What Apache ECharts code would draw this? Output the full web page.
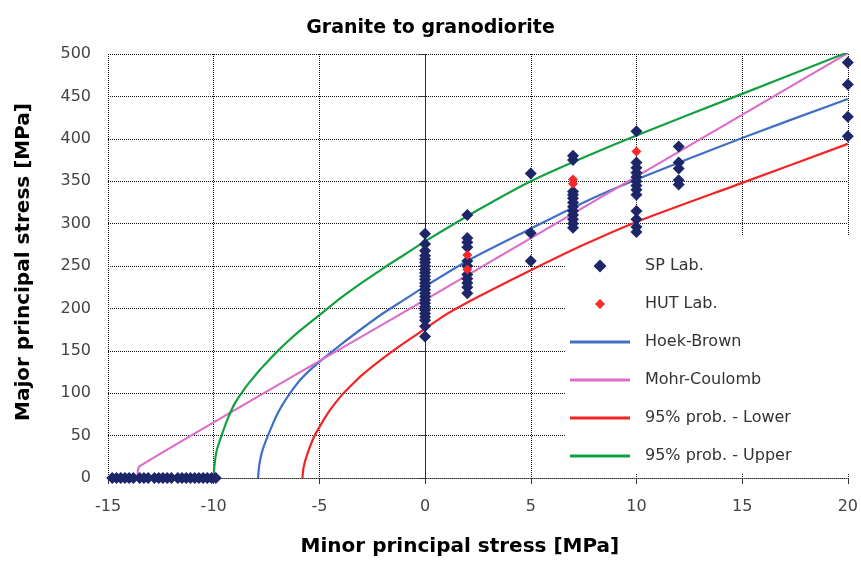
<!DOCTYPE html>
<html>
<head>
<meta charset="utf-8">
<script src="https://cdn.jsdelivr.net/npm/echarts@6/dist/echarts.min.js"></script>
<style>
  html, body { margin: 0; padding: 0; background: #fff; }
  #chart { width: 861px; height: 562px; }
</style>
</head>
<body>
<div id="chart"></div>
<script>
// Triaxial test results, granite to granodiorite: [minor stress, major stress] in MPa
const spLab = [
  [-14.8,0],[-14.6,0],[-14.4,0],[-14.2,0],[-14.0,0],[-13.8,0],[-13.5,0],[-13.3,0],
  [-13.1,0],[-12.8,0],[-12.6,0],[-12.4,0],[-12.2,0],[-12.0,0],[-11.7,0],[-11.5,0],
  [-11.3,0],[-11.1,0],[-10.9,0],[-10.7,0],[-10.5,0],[-10.3,0],[-10.1,0],[-9.9,0],
  [0,288],[0,276],[0,268],[0,262],[0,258],[0,254],[0,250],[0,246],[0,242],[0,238],
  [0,234],[0,230],[0,226],[0,222],[0,218],[0,214],[0,210],[0,206],[0,202],[0,198],
  [0,194],[0,190],[0,186],[0,179],[0,167],
  [2,310],[2,283],[2,278],[2,272],[2,256],[2,250],[2,240],[2,235],[2,230],[2,225],[2,218],
  [5,359],[5,289],[5,256],
  [7,380],[7,375],[7,338],[7,334],[7,330],[7,325],[7,320],[7,315],[7,310],[7,305],[7,300],[7,295],
  [10,409],[10,372],[10,366],[10,360],[10,355],[10,350],[10,345],[10,340],[10,334],
  [10,315],[10,305],[10,296],[10,290],
  [12,391],[12,372],[12,365],[12,351],[12,346],
  [20,490],[20,464],[20,426],[20,403]
];
const hutLab = [
  [2,263],[2,246],
  [7,352],[7,347],
  [10,385]
];

// Failure envelopes
const hoekBrown = [
  [-7.9,0],[-7.85,14],[-7.7,32],[-7.4,52],[-7,75],[-6.5,96],[-6,113],[-5.5,126],
  [-5,137],[-4,157],[-3,176],[-2,194],[-1,210],[0,226],[2,256],[5,294],
  [7.5,325],[10,352],[15,401],[20,447]
];
const mohrCoulomb = [
  [-13.6,4],[-13.5,14],[0,210],[20,501]
];
const lower95 = [
  [-5.8,0],[-5.75,12],[-5.6,26],[-5.3,46],[-5,60],[-4.5,80],[-4,96],[-3.5,109],
  [-3,121],[-2,141],[-1,159],[0,176],[1,193],[2,207],[3,220],[5,245],
  [7.5,275],[10,302],[15,348],[20,394]
];
const upper95 = [
  [-10,0],[-9.95,18],[-9.85,33],[-9.6,52],[-9.3,72],[-9,88],[-8.6,103],[-8.3,113],
  [-7.8,128],[-7.5,136],[-7,149],[-6.5,161],[-6,172],[-5,192],[-4,212],[-3,230],
  [-2,247],[-1,263],[0,279],[2.5,316],[5,350],[7.5,378],[10,404],[15,453],[20,502]
];

const xTicks = { min: -15, max: 20, interval: 5 };
const yTicks = { min: 0, max: 500, interval: 50 };

const FONT = '"DejaVu Sans", Verdana, sans-serif';
const grid = { lineStyle: { color: '#111', type: 'dotted', width: 1 } };

// Legend glyphs: short bar for curves, diamonds for test points
const LINE_ICON = 'path://M0,0H60V3H0Z';
const SP_ICON = 'path://M0,-6L6,0L0,6L-6,0Z';
const HUT_ICON = 'path://M0,-6.5M0,6.5M0,-5L5,0L0,5L-5,0Z';

const chart = echarts.init(document.getElementById('chart'), null, { renderer: 'canvas' });

function lineSeries(name, data, color) {
  return {
    name, type: 'line', data, z: 2,
    symbol: 'none', showSymbol: false, smooth: 0.25,
    lineStyle: { color, width: 2.2 }, itemStyle: { color },
    animation: false
  };
}

chart.setOption({
  animation: false,
  backgroundColor: '#fff',
  title: {
    text: 'Granite to granodiorite',
    left: 'center', top: 14,
    textStyle: { fontFamily: FONT, fontSize: 19, fontWeight: 'bold', color: '#000' }
  },
  grid: { left: 108, right: 8, top: 54, bottom: 84 },
  xAxis: {
    type: 'value', min: xTicks.min, max: xTicks.max, interval: xTicks.interval,
    name: 'Minor principal stress [MPa]', nameLocation: 'middle', nameGap: 59,
    nameTextStyle: { fontFamily: FONT, fontSize: 20, fontWeight: 'bold', color: '#000', padding: [0, 36, 0, 0] },
    axisLine: { show: true, onZero: false, lineStyle: { color: '#333', type: 'dotted' } },
    axisTick: { show: true, length: 6, lineStyle: { color: '#333' } },
    axisLabel: { fontFamily: FONT, fontSize: 16, color: '#444', margin: 21 },
    splitLine: { show: true, ...grid }
  },
  yAxis: {
    type: 'value', min: yTicks.min, max: yTicks.max, interval: yTicks.interval,
    name: 'Major principal stress [MPa]', nameLocation: 'middle', nameGap: 74, nameRotate: 90,
    nameTextStyle: { fontFamily: FONT, fontSize: 20, fontWeight: 'bold', color: '#000', padding: [0, 0, 0, 8] },
    axisLine: { show: true, lineStyle: { color: '#333', type: 'dotted' } },
    axisTick: { show: true, length: 7, lineStyle: { color: '#333' } },
    axisLabel: { fontFamily: FONT, fontSize: 16, color: '#444', margin: 17 },
    splitLine: { show: true, ...grid }
  },
  legend: {
    orient: 'vertical', left: 565, top: 235, z: 1,
    backgroundColor: '#fff',
    padding: [23, 60, 10, 5],
    itemWidth: 60, itemHeight: 13, itemGap: 22,
    textStyle: { fontFamily: FONT, fontSize: 16, color: '#333', lineHeight: 16, padding: [0, 0, 0, 10] },
    data: [
      { name: 'SP Lab.', icon: SP_ICON },
      { name: 'HUT Lab.', icon: HUT_ICON },
      { name: 'Hoek-Brown', icon: LINE_ICON },
      { name: 'Mohr-Coulomb', icon: LINE_ICON },
      { name: '95% prob. - Lower', icon: LINE_ICON },
      { name: '95% prob. - Upper', icon: LINE_ICON }
    ]
  },
  series: [
    lineSeries('Hoek-Brown', hoekBrown, '#3f70c4'),
    lineSeries('Mohr-Coulomb', mohrCoulomb, '#de6cc8'),
    lineSeries('95% prob. - Lower', lower95, '#f22424'),
    lineSeries('95% prob. - Upper', upper95, '#13a040'),
    {
      name: 'SP Lab.', type: 'scatter', data: spLab, z: 3,
      symbol: 'diamond', symbolSize: 12,
      itemStyle: { color: '#1c2668', opacity: 1 }
    },
    {
      name: 'HUT Lab.', type: 'scatter', data: hutLab, z: 4,
      symbol: 'diamond', symbolSize: 10,
      itemStyle: { color: '#f42a2a', opacity: 1 }
    }
  ]
});
</script>
</body>
</html>
